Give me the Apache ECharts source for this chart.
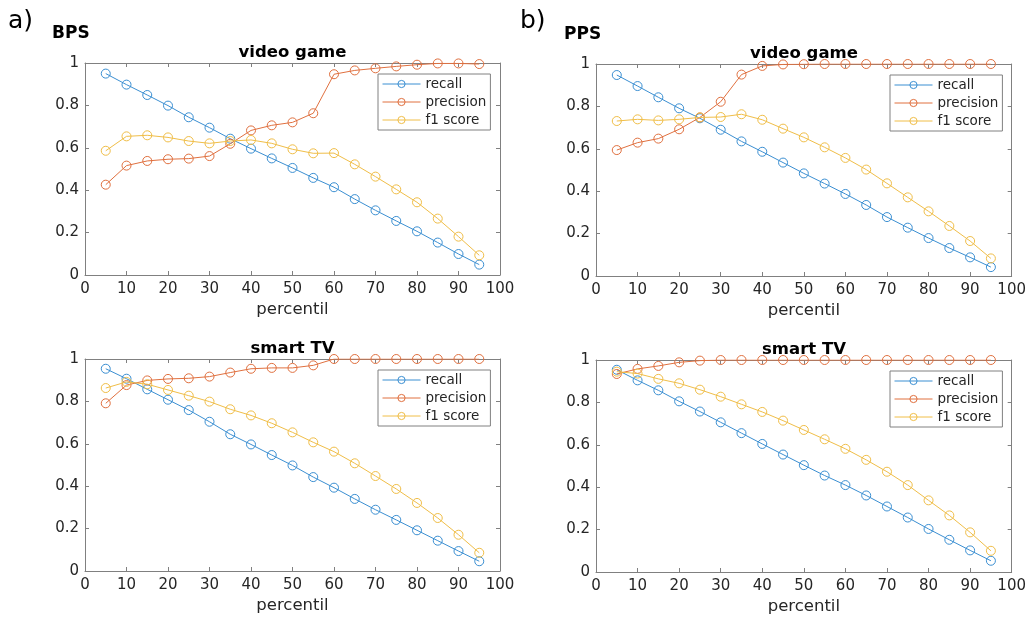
<!DOCTYPE html>
<html>
<head>
<meta charset="utf-8">
<script src="https://cdn.jsdelivr.net/npm/echarts@6/dist/echarts.min.js"></script>
<style>
html,body{margin:0;padding:0;background:#fff;}
#chart{width:1029px;height:618px;}
</style>
</head>
<body>
<div id="chart"></div>
<script>
// ---- data ----
var percentiles = [5,10,15,20,25,30,35,40,45,50,55,60,65,70,75,80,85,90,95];
var xTicks = [0,10,20,30,40,50,60,70,80,90,100];
var yTicks = [0,0.2,0.4,0.6,0.8,1];
var seriesNames = ['recall','precision','f1 score'];

// a) BPS, video game
var bpsVideoRecall    = [0.950,0.898,0.849,0.799,0.744,0.695,0.643,0.596,0.550,0.505,0.458,0.414,0.358,0.305,0.255,0.206,0.153,0.099,0.049];
var bpsVideoPrecision = [0.426,0.516,0.538,0.546,0.549,0.561,0.619,0.682,0.706,0.720,0.763,0.947,0.965,0.975,0.984,0.992,0.998,0.998,0.995];
var bpsVideoF1        = [0.586,0.654,0.659,0.649,0.632,0.621,0.632,0.637,0.621,0.593,0.574,0.575,0.522,0.464,0.404,0.343,0.266,0.181,0.093];

// b) PPS, video game
var ppsVideoRecall    = [0.948,0.896,0.843,0.791,0.744,0.690,0.635,0.586,0.535,0.484,0.436,0.387,0.335,0.278,0.228,0.179,0.132,0.088,0.042];
var ppsVideoPrecision = [0.594,0.629,0.648,0.692,0.748,0.822,0.950,0.991,0.998,0.999,1.000,1.000,1.000,1.000,1.000,1.000,1.000,1.000,1.000];
var ppsVideoF1        = [0.731,0.739,0.734,0.739,0.748,0.750,0.763,0.737,0.695,0.654,0.607,0.557,0.502,0.437,0.371,0.305,0.236,0.165,0.083];

// a) BPS, smart TV
var bpsTvRecall    = [0.954,0.907,0.857,0.808,0.759,0.704,0.645,0.597,0.547,0.498,0.443,0.393,0.340,0.289,0.241,0.192,0.143,0.094,0.046];
var bpsTvPrecision = [0.791,0.877,0.899,0.906,0.909,0.917,0.936,0.954,0.958,0.958,0.970,1.000,1.000,1.000,1.000,1.000,1.000,1.000,1.000];
var bpsTvF1        = [0.863,0.892,0.881,0.854,0.827,0.799,0.763,0.734,0.697,0.654,0.607,0.563,0.508,0.448,0.387,0.321,0.250,0.171,0.086];

// b) PPS, smart TV
var ppsTvRecall    = [0.954,0.904,0.857,0.805,0.757,0.706,0.655,0.604,0.554,0.504,0.455,0.410,0.361,0.309,0.257,0.203,0.152,0.102,0.053];
var ppsTvPrecision = [0.934,0.958,0.972,0.989,0.997,1.000,1.000,1.000,1.000,1.000,1.000,1.000,1.000,1.000,1.000,1.000,1.000,1.000,1.000];
var ppsTvF1        = [0.945,0.936,0.911,0.890,0.860,0.827,0.791,0.755,0.714,0.670,0.626,0.581,0.529,0.473,0.410,0.338,0.267,0.187,0.100];

// ---- styling / layout ----
var colors = ['#3b8fd2','#e0703f','#f0be48'];
var FONT = '"DejaVu Sans", "Liberation Sans", sans-serif';
var axisGray = '#808080';
var textDark = '#262626';

var panels = [
  {grid:{left:85, top:63, width:415, height:212}, title:'video game', data:[bpsVideoRecall,bpsVideoPrecision,bpsVideoF1]},
  {grid:{left:596,top:64, width:416, height:212}, title:'video game', data:[ppsVideoRecall,ppsVideoPrecision,ppsVideoF1]},
  {grid:{left:85, top:359,width:415, height:212}, title:'smart TV',   data:[bpsTvRecall,bpsTvPrecision,bpsTvF1]},
  {grid:{left:596,top:360,width:416, height:212}, title:'smart TV',   data:[ppsTvRecall,ppsTvPrecision,ppsTvF1]}
];

var grids=[], xAxes=[], yAxes=[], series=[], legends=[], graphics=[];

panels.forEach(function(p, i){
  grids.push(Object.assign({containLabel:false}, p.grid));
  var line = {show:true, onZero:false, lineStyle:{color:axisGray, width:1}};
  var tick = {show:true, inside:true, length:4, lineStyle:{color:axisGray, width:1}};
  var lbl = {show:true, color:textDark, fontSize:15, fontFamily:FONT, margin:7};
  xAxes.push({type:'value', gridIndex:i, min:0, max:100, interval:10, position:'bottom',
    axisLine:line, axisTick:tick, splitLine:{show:false}, axisLabel:lbl,
    name:'percentil', nameLocation:'middle', nameGap:26,
    nameTextStyle:{color:textDark, fontSize:16.5, fontFamily:FONT}});
  xAxes.push({type:'value', gridIndex:i, min:0, max:100, interval:10, position:'top',
    axisLine:line, axisTick:tick, splitLine:{show:false}, axisLabel:{show:false}});
  yAxes.push({type:'value', gridIndex:i, min:0, max:1, interval:0.2, position:'left',
    axisLine:line, axisTick:tick, splitLine:{show:false},
    axisLabel:Object.assign({}, lbl, {margin:6, formatter:function(v){return String(+v.toFixed(1));}})});
  yAxes.push({type:'value', gridIndex:i, min:0, max:1, interval:0.2, position:'right',
    axisLine:line, axisTick:tick, splitLine:{show:false}, axisLabel:{show:false}});

  p.data.forEach(function(arr, k){
    series.push({
      type:'line', name:seriesNames[k], xAxisIndex:2*i, yAxisIndex:2*i,
      data: percentiles.map(function(x, j){ return [x, arr[j]]; }),
      symbol:'circle', symbolSize:9, showSymbol:true,
      lineStyle:{color:colors[k], width:1},
      itemStyle:{color:'rgba(0,0,0,0)', borderColor:colors[k], borderWidth:1},
      emphasis:{disabled:true}, animation:false, z:2+k
    });
  });

  var g = p.grid;
  legends.push({
    orient:'vertical', left:g.left+g.width-122, top:g.top+11,
    data:seriesNames, selectedMode:false,
    itemWidth:38, itemHeight:9, itemGap:4,
    padding:[3,4,3,4],
    borderColor:axisGray, borderWidth:1, backgroundColor:'#fff',
    lineStyle:{width:1},
    itemStyle:{borderWidth:1},
    textStyle:{color:textDark, fontSize:13.5, fontFamily:FONT, lineHeight:14}
  });

  graphics.push({type:'text', x:g.left+g.width/2, y:g.top-10,
    style:{text:p.title, font:'bold 16.5px '+FONT, fill:'#000', align:'center', verticalAlign:'middle'}});
});

graphics.push({type:'text', x:8, y:21, style:{text:'a)', font:'25px '+FONT, fill:'#000', align:'left', verticalAlign:'middle'}});
graphics.push({type:'text', x:520, y:21, style:{text:'b)', font:'25px '+FONT, fill:'#000', align:'left', verticalAlign:'middle'}});
graphics.push({type:'text', x:52, y:34, style:{text:'BPS', font:'bold 17px '+FONT, fill:'#000', align:'left', verticalAlign:'middle'}});
graphics.push({type:'text', x:564, y:35, style:{text:'PPS', font:'bold 17px '+FONT, fill:'#000', align:'left', verticalAlign:'middle'}});

var chart = echarts.init(document.getElementById('chart'), null, {renderer:'canvas'});
chart.setOption({
  backgroundColor:'#fff',
  animation:false,
  grid:grids, xAxis:xAxes, yAxis:yAxes, series:series, legend:legends, graphic:graphics
});
</script>
</body>
</html>
